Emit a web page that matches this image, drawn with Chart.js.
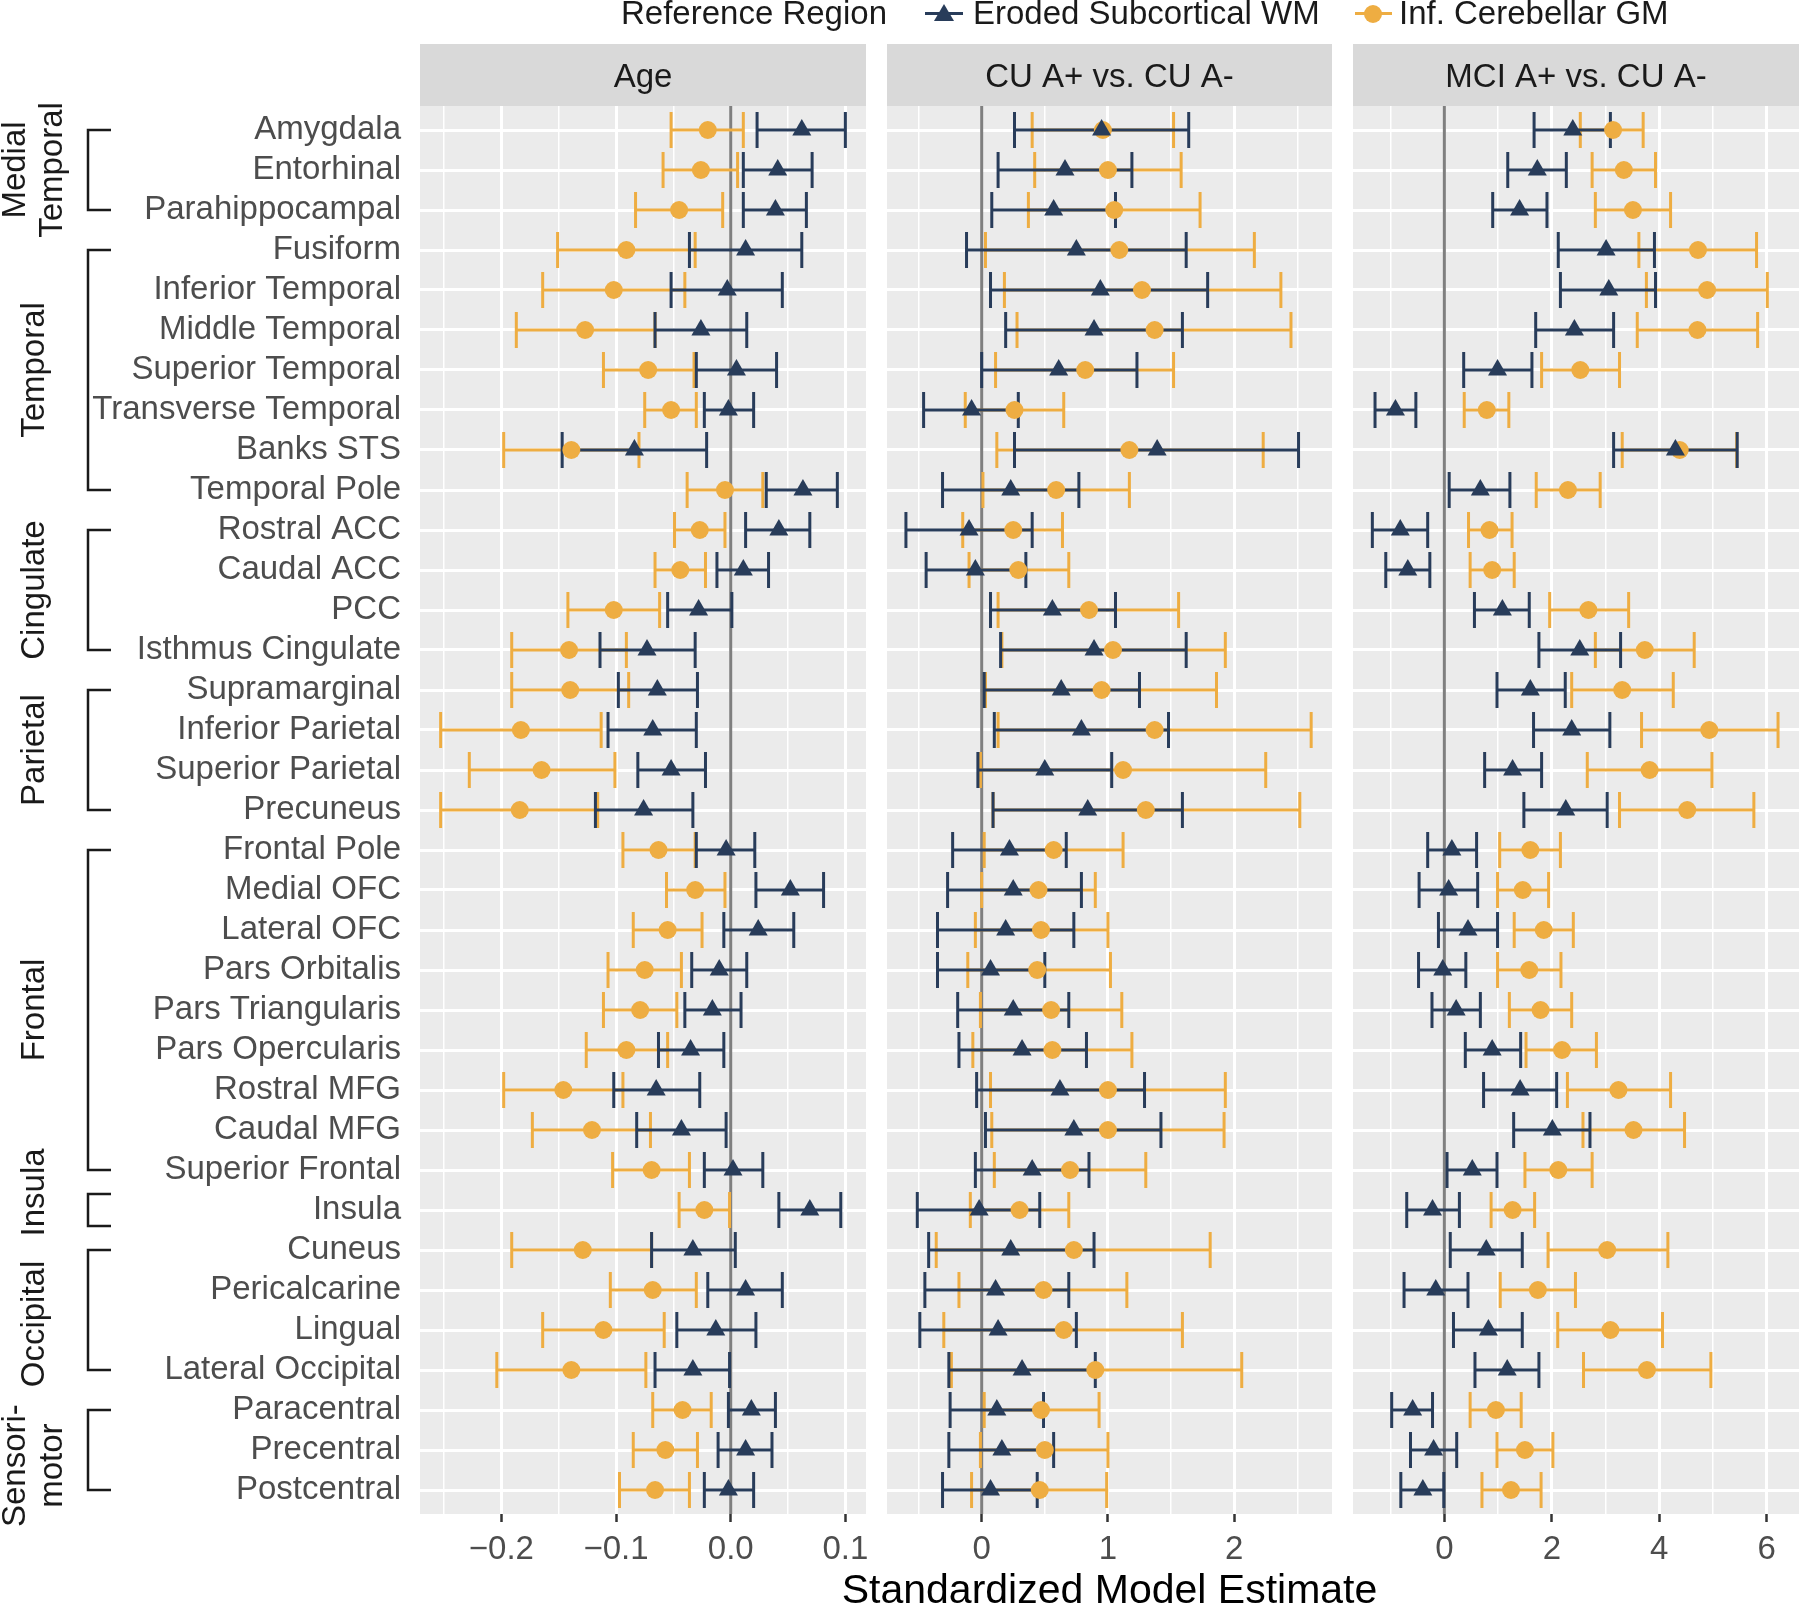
<!DOCTYPE html>
<html>
<head>
<meta charset="utf-8">
<script src="https://cdn.jsdelivr.net/npm/chart.js@4.4.0/dist/chart.umd.min.js"></script>
<style>
  body { margin: 0; background: #fff; }
  #page { position: relative; width: 1800px; height: 1606px; overflow: hidden;
          font-family: "Liberation Sans", Arial, Helvetica, sans-serif; }
  #page canvas { position: absolute; top: 0; }
  .txt { position: absolute; white-space: nowrap; color: #1a1a1a; font-size: 33px; line-height: 1; }
  .key-line { position: absolute; height: 3px; }
</style>
</head>
<body>
<div id="page">
  <canvas id="agePanel" width="870" height="1606" style="left:0;width:870px;height:1606px"></canvas>
  <canvas id="cuPanel" width="466" height="1606" style="left:870px;width:466px;height:1606px"></canvas>
  <canvas id="mciPanel" width="464" height="1606" style="left:1336px;width:464px;height:1606px"></canvas>

  <!-- legend -->
  <div class="txt" style="left:621px;top:-4px">Reference Region</div>
  <div class="key-line" style="left:925px;top:12px;width:38px;background:#283c5a"></div>
  <div style="position:absolute;left:934px;top:4px;width:0;height:0;border-left:10px solid transparent;border-right:10px solid transparent;border-bottom:17px solid #283c5a"></div>
  <div class="txt" style="left:973px;top:-4px">Eroded Subcortical WM</div>
  <div class="key-line" style="left:1355px;top:12px;width:37px;background:#eead42"></div>
  <div style="position:absolute;left:1364px;top:5px;width:18px;height:18px;border-radius:50%;background:#eead42"></div>
  <div class="txt" style="left:1399px;top:-4px">Inf. Cerebellar GM</div>

  <!-- shared x axis title -->
  <div class="txt" style="left:1109.5px;top:1569px;font-size:41px;color:#000;transform:translateX(-50%)">Standardized Model Estimate</div>
</div>

<script>
const NAVY = "#283c5a";
const ORANGE = "#eead42";
const FONT = '"Liberation Sans", Arial, Helvetica, sans-serif';

const regions = [
    "Amygdala", "Entorhinal", "Parahippocampal", "Fusiform", "Inferior Temporal",
    "Middle Temporal", "Superior Temporal", "Transverse Temporal", "Banks STS", "Temporal Pole",
    "Rostral ACC", "Caudal ACC", "PCC", "Isthmus Cingulate", "Supramarginal",
    "Inferior Parietal", "Superior Parietal", "Precuneus", "Frontal Pole", "Medial OFC",
    "Lateral OFC", "Pars Orbitalis", "Pars Triangularis", "Pars Opercularis", "Rostral MFG",
    "Caudal MFG", "Superior Frontal", "Insula", "Cuneus", "Pericalcarine",
    "Lingual", "Lateral Occipital", "Paracentral", "Precentral", "Postcentral",
];

// lobe groups on the left: label lines, first and last region index
const groupNames = [["Medial", "Temporal"], ["Temporal"], ["Cingulate"], ["Parietal"],
    ["Frontal"], ["Insula"], ["Occipital"], ["Sensori-", "motor"]];
const groupFirst = [0, 3, 10, 14, 18, 27, 28, 32];
const groupLast = [2, 9, 13, 17, 26, 27, 31, 34];

const panelTitles = ["Age", "CU A+ vs. CU A-", "MCI A+ vs. CU A-"];

// Age
const ageWmEst = [0.062, 0.041, 0.039, 0.013, -0.003, -0.026, 0.005, -0.002, -0.084, 0.063,
    0.042, 0.011, -0.028, -0.073, -0.064, -0.068, -0.052, -0.076, -0.004, 0.052,
    0.024, -0.010, -0.016, -0.035, -0.065, -0.043, 0.002, 0.069, -0.033, 0.013,
    -0.013, -0.033, 0.018, 0.013, -0.002];
const ageWmLo = [0.023, 0.011, 0.011, -0.036, -0.052, -0.066, -0.030, -0.023, -0.147, 0.031,
    0.013, -0.012, -0.055, -0.114, -0.098, -0.107, -0.081, -0.118, -0.030, 0.022,
    -0.006, -0.034, -0.040, -0.063, -0.102, -0.082, -0.023, 0.042, -0.069, -0.020,
    -0.047, -0.066, -0.002, -0.011, -0.023];
const ageWmHi = [0.100, 0.071, 0.066, 0.062, 0.045, 0.014, 0.040, 0.020, -0.021, 0.093,
    0.069, 0.033, 0.001, -0.031, -0.029, -0.030, -0.022, -0.033, 0.021, 0.081,
    0.055, 0.014, 0.009, -0.006, -0.027, -0.004, 0.028, 0.096, 0.004, 0.045,
    0.022, -0.001, 0.039, 0.036, 0.020];
const ageGmEst = [-0.020, -0.026, -0.045, -0.091, -0.102, -0.127, -0.072, -0.052, -0.139, -0.005,
    -0.027, -0.044, -0.102, -0.141, -0.140, -0.183, -0.165, -0.184, -0.063, -0.031,
    -0.055, -0.075, -0.079, -0.091, -0.146, -0.121, -0.069, -0.023, -0.129, -0.068,
    -0.111, -0.139, -0.042, -0.057, -0.066];
const ageGmLo = [-0.052, -0.059, -0.083, -0.151, -0.164, -0.187, -0.111, -0.075, -0.198, -0.038,
    -0.049, -0.066, -0.142, -0.191, -0.191, -0.253, -0.228, -0.253, -0.094, -0.056,
    -0.085, -0.107, -0.111, -0.126, -0.198, -0.173, -0.103, -0.045, -0.191, -0.105,
    -0.164, -0.204, -0.068, -0.085, -0.097];
const ageGmHi = [0.011, 0.006, -0.007, -0.031, -0.040, -0.066, -0.032, -0.030, -0.080, 0.028,
    -0.005, -0.022, -0.062, -0.091, -0.089, -0.113, -0.101, -0.116, -0.031, -0.005,
    -0.025, -0.043, -0.047, -0.055, -0.094, -0.070, -0.036, -0.001, -0.069, -0.030,
    -0.058, -0.074, -0.017, -0.029, -0.036];

// CU A+ vs. CU A-
const cuWmEst = [0.95, 0.66, 0.57, 0.75, 0.94, 0.89, 0.61, -0.08, 1.39, 0.23,
    -0.10, -0.05, 0.56, 0.89, 0.63, 0.79, 0.50, 0.84, 0.22, 0.25,
    0.19, 0.07, 0.25, 0.32, 0.62, 0.73, 0.40, -0.02, 0.23, 0.11,
    0.13, 0.32, 0.12, 0.16, 0.07];
const cuWmLo = [0.26, 0.13, 0.08, -0.12, 0.07, 0.19, 0.00, -0.46, 0.26, -0.31,
    -0.60, -0.44, 0.07, 0.15, 0.02, 0.10, -0.03, 0.09, -0.23, -0.27,
    -0.35, -0.35, -0.19, -0.18, -0.04, 0.03, -0.05, -0.51, -0.42, -0.45,
    -0.49, -0.26, -0.25, -0.26, -0.31];
const cuWmHi = [1.64, 1.19, 1.06, 1.62, 1.79, 1.59, 1.23, 0.29, 2.51, 0.77,
    0.40, 0.35, 1.06, 1.62, 1.25, 1.48, 1.03, 1.59, 0.67, 0.79,
    0.73, 0.50, 0.69, 0.83, 1.29, 1.42, 0.85, 0.46, 0.89, 0.69,
    0.75, 0.90, 0.49, 0.57, 0.44];
const cuGmEst = [0.96, 1.00, 1.05, 1.09, 1.27, 1.37, 0.82, 0.26, 1.17, 0.59,
    0.25, 0.29, 0.85, 1.04, 0.95, 1.37, 1.12, 1.30, 0.57, 0.45,
    0.47, 0.44, 0.55, 0.56, 1.00, 1.00, 0.70, 0.30, 0.73, 0.49,
    0.65, 0.90, 0.47, 0.50, 0.46];
const cuGmLo = [0.40, 0.42, 0.37, 0.03, 0.18, 0.28, 0.11, -0.13, 0.12, 0.01,
    -0.15, -0.10, 0.13, 0.16, 0.03, 0.13, -0.01, 0.09, 0.02, 0.00,
    -0.05, -0.11, -0.01, -0.07, 0.07, 0.08, 0.10, -0.09, -0.36, -0.18,
    -0.30, -0.24, 0.02, -0.01, -0.08];
const cuGmHi = [1.52, 1.58, 1.73, 2.16, 2.37, 2.45, 1.52, 0.65, 2.23, 1.17,
    0.64, 0.69, 1.56, 1.93, 1.86, 2.61, 2.25, 2.52, 1.12, 0.90,
    1.00, 1.02, 1.11, 1.19, 1.93, 1.92, 1.30, 0.69, 1.81, 1.15,
    1.59, 2.06, 0.93, 1.00, 0.99];

// MCI A+ vs. CU A-
const mciWmEst = [2.39, 1.73, 1.40, 3.01, 3.06, 2.42, 0.99, -0.91, 4.30, 0.67,
    -0.82, -0.68, 1.08, 2.52, 1.60, 2.37, 1.27, 2.26, 0.14, 0.08,
    0.44, -0.03, 0.22, 0.89, 1.41, 2.01, 0.52, -0.22, 0.78, -0.16,
    0.82, 1.17, -0.59, -0.20, -0.40];
const mciWmLo = [1.67, 1.18, 0.90, 2.12, 2.16, 1.70, 0.36, -1.29, 3.15, 0.09,
    -1.34, -1.09, 0.56, 1.76, 0.98, 1.66, 0.75, 1.48, -0.31, -0.47,
    -0.11, -0.48, -0.23, 0.39, 0.73, 1.29, 0.05, -0.70, 0.11, -0.75,
    0.17, 0.57, -0.98, -0.63, -0.81];
const mciWmHi = [3.09, 2.27, 1.91, 3.91, 3.93, 3.15, 1.63, -0.53, 5.45, 1.22,
    -0.31, -0.27, 1.58, 3.28, 2.25, 3.08, 1.81, 3.03, 0.60, 0.62,
    0.99, 0.40, 0.67, 1.42, 2.09, 2.71, 0.98, 0.28, 1.45, 0.44,
    1.45, 1.76, -0.22, 0.23, -0.01];
const mciGmEst = [3.14, 3.34, 3.51, 4.72, 4.89, 4.71, 2.53, 0.79, 4.38, 2.30,
    0.84, 0.89, 2.68, 3.73, 3.31, 4.93, 3.82, 4.52, 1.60, 1.46,
    1.85, 1.58, 1.79, 2.19, 3.24, 3.52, 2.12, 1.27, 3.03, 1.74,
    3.09, 3.77, 0.96, 1.50, 1.24];
const mciGmLo = [2.53, 2.75, 2.81, 3.62, 3.76, 3.59, 1.81, 0.37, 3.31, 1.71,
    0.45, 0.48, 1.96, 2.81, 2.37, 3.67, 2.66, 3.26, 1.03, 0.99,
    1.30, 0.99, 1.21, 1.52, 2.29, 2.58, 1.50, 0.87, 1.93, 1.04,
    2.11, 2.59, 0.48, 0.98, 0.70];
const mciGmHi = [3.70, 3.93, 4.21, 5.81, 6.01, 5.83, 3.26, 1.20, 5.44, 2.90,
    1.26, 1.30, 3.43, 4.65, 4.26, 6.21, 4.98, 5.76, 2.16, 1.94,
    2.40, 2.17, 2.37, 2.83, 4.21, 4.47, 2.75, 1.68, 4.16, 2.44,
    4.06, 4.96, 1.43, 2.02, 1.80];

// axis breaks
const ageMajor = [-0.2, -0.1, 0, 0.1];
const ageMinor = [-0.25, -0.15, -0.05, 0.05];
const ageTickLabels = ["\u22120.2", "\u22120.1", "0.0", "0.1"];
const cuMajor = [0, 1, 2];
const cuMinor = [-0.5, 0.5, 1.5, 2.5];
const cuTickLabels = ["0", "1", "2"];
const mciMajor = [0, 2, 4, 6];
const mciMinor = [-1, 1, 3, 5];
const mciTickLabels = ["0", "2", "4", "6"];

// --- styling / layout ---
const PANEL_TOP = 106;
const STRIP_TOP = 44;
const X_AXIS_H = 92;
const CAP = 0.45;                 // half height of error bar caps, in rows
const labelShift = [0, 0, 0, 0, 0, -0.44, 0.35, 0.39];

const panelBackground = {
    id: "strip",
    beforeDraw(chart, args, opts) {
        const { ctx, chartArea: a } = chart;
        ctx.save();
        ctx.fillStyle = "#d9d9d9";
        ctx.fillRect(a.left, STRIP_TOP, a.right - a.left, a.top - STRIP_TOP);
        ctx.fillStyle = "#1a1a1a";
        ctx.font = "33px " + FONT;
        ctx.textAlign = "center";
        ctx.textBaseline = "middle";
        ctx.fillText(opts.text, (a.left + a.right) / 2, (STRIP_TOP + a.top) / 2 + 3);
        ctx.fillStyle = "#ebebeb";
        ctx.fillRect(a.left, a.top, a.right - a.left, a.bottom - a.top);
        ctx.restore();
    },
};

const errorBars = {
    id: "errorBars",
    beforeDatasetsDraw(chart) {
        const { ctx, chartArea: a } = chart;
        const x = chart.scales.x;
        const y = chart.scales.y;
        ctx.save();
        ctx.beginPath();
        ctx.rect(a.left, a.top, a.right - a.left, a.bottom - a.top);
        ctx.clip();

        // zero reference line
        const x0 = x.getPixelForValue(0);
        ctx.strokeStyle = "#7f7f7f";
        ctx.lineWidth = 3;
        ctx.beginPath();
        ctx.moveTo(x0, a.top);
        ctx.lineTo(x0, a.bottom);
        ctx.stroke();

        // orange first, navy on top
        [1, 0].forEach((di) => {
            const ds = chart.data.datasets[di];
            ctx.strokeStyle = ds.pointBackgroundColor;
            ctx.lineWidth = 3;
            ds.data.forEach((p) => {
                const xl = x.getPixelForValue(p.lo);
                const xh = x.getPixelForValue(p.hi);
                const yc = y.getPixelForValue(p.y);
                const yt = y.getPixelForValue(p.y - CAP);
                const yb = y.getPixelForValue(p.y + CAP);
                ctx.beginPath();
                ctx.moveTo(xl, yc);
                ctx.lineTo(xh, yc);
                ctx.moveTo(xl, yt);
                ctx.lineTo(xl, yb);
                ctx.moveTo(xh, yt);
                ctx.lineTo(xh, yb);
                ctx.stroke();
            });
        });
        ctx.restore();
    },
};

const lobeLabels = {
    id: "lobeLabels",
    afterDraw(chart) {
        const { ctx } = chart;
        const y = chart.scales.y;
        ctx.save();
        ctx.strokeStyle = "#1a1a1a";
        ctx.fillStyle = "#1a1a1a";
        ctx.lineWidth = 2.5;
        ctx.font = "33px " + FONT;
        ctx.textAlign = "center";
        ctx.textBaseline = "alphabetic";
        groupNames.forEach((lines, g) => {
            let top = groupFirst[g];
            let bot = groupLast[g];
            if (top === bot) {
                top -= 0.4;
                bot += 0.4;
            }
            const yt = y.getPixelForValue(top);
            const yb = y.getPixelForValue(bot);
            ctx.beginPath();
            ctx.moveTo(111, yt);
            ctx.lineTo(88, yt);
            ctx.lineTo(88, yb);
            ctx.lineTo(111, yb);
            ctx.stroke();

            const yc = y.getPixelForValue((groupFirst[g] + groupLast[g]) / 2 + labelShift[g]);
            const baselines = lines.length === 1 ? [44] : [25, 62];
            lines.forEach((t, k) => {
                ctx.save();
                ctx.translate(baselines[k], yc);
                ctx.rotate(-Math.PI / 2);
                ctx.fillText(t, 0, 0);
                ctx.restore();
            });
        });
        ctx.restore();
    },
};

function points(est, lo, hi) {
    return est.map((v, i) => ({ x: v, y: i, lo: lo[i], hi: hi[i] }));
}

function createPanel(cfg) {
    const ticks = cfg.major.concat(cfg.minor).sort((a, b) => a - b);
    const isMajor = (v) => cfg.major.some((m) => Math.abs(m - v) < 1e-9);

    return new Chart(document.getElementById(cfg.id), {
        type: "scatter",
        data: {
            datasets: [
                {
                    label: "Eroded Subcortical WM",
                    data: points(cfg.wm[0], cfg.wm[1], cfg.wm[2]),
                    pointStyle: "triangle",
                    pointRadius: 11,
                    pointBackgroundColor: NAVY,
                    pointBorderColor: NAVY,
                    pointBorderWidth: 0,
                },
                {
                    label: "Inf. Cerebellar GM",
                    data: points(cfg.gm[0], cfg.gm[1], cfg.gm[2]),
                    pointStyle: "circle",
                    pointRadius: 9,
                    pointBackgroundColor: ORANGE,
                    pointBorderColor: ORANGE,
                    pointBorderWidth: 0,
                },
            ],
        },
        options: {
            responsive: false,
            animation: false,
            events: [],
            layout: {
                autoPadding: false,
                padding: { top: PANEL_TOP, bottom: 0, left: cfg.padLeft, right: cfg.padRight },
            },
            plugins: {
                legend: { display: false },
                tooltip: { enabled: false },
                strip: { text: cfg.title },
            },
            scales: {
                x: {
                    type: "linear",
                    min: cfg.min,
                    max: cfg.max,
                    afterBuildTicks: (s) => {
                        s.ticks = ticks.map((v) => ({ value: v }));
                    },
                    afterFit: (s) => {
                        s.height = X_AXIS_H;
                        s.paddingLeft = 0;
                        s.paddingRight = 0;
                    },
                    ticks: {
                        autoSkip: false,
                        maxRotation: 0,
                        padding: 8,
                        color: "#4d4d4d",
                        font: { family: FONT, size: 33 },
                        callback: (v) => {
                            const k = cfg.major.findIndex((m) => Math.abs(m - v) < 1e-9);
                            return k >= 0 ? cfg.labels[k] : "";
                        },
                    },
                    grid: {
                        color: "#ffffff",
                        lineWidth: (c) => (c.tick && isMajor(c.tick.value) ? 3 : 1.5),
                        tickColor: (c) => (c.tick && isMajor(c.tick.value) ? "#333333" : "rgba(0,0,0,0)"),
                        tickLength: 8,
                        tickWidth: 2.5,
                    },
                    border: { display: false },
                },
                y: {
                    type: "linear",
                    reverse: true,
                    min: -0.6,
                    max: regions.length - 0.4,
                    afterBuildTicks: (s) => {
                        s.ticks = regions.map((_, i) => ({ value: i }));
                    },
                    afterFit: (s) => {
                        s.width = cfg.showY ? 420 : 0;
                        s.paddingTop = 0;
                        s.paddingBottom = 0;
                    },
                    ticks: {
                        display: cfg.showY,
                        autoSkip: false,
                        padding: 19,
                        color: "#4d4d4d",
                        font: { family: FONT, size: 33 },
                        callback: (v) => regions[v],
                    },
                    grid: {
                        color: "#ffffff",
                        lineWidth: 3,
                        drawTicks: false,
                    },
                    border: { display: false },
                },
            },
        },
        plugins: cfg.showY ? [panelBackground, errorBars, lobeLabels] : [panelBackground, errorBars],
    });
}

createPanel({
    id: "agePanel", title: panelTitles[0], min: -0.271, max: 0.118,
    major: ageMajor, minor: ageMinor, labels: ageTickLabels,
    wm: [ageWmEst, ageWmLo, ageWmHi], gm: [ageGmEst, ageGmLo, ageGmHi],
    showY: true, padLeft: 0, padRight: 4,
});

createPanel({
    id: "cuPanel", title: panelTitles[1], min: -0.75, max: 2.775,
    major: cuMajor, minor: cuMinor, labels: cuTickLabels,
    wm: [cuWmEst, cuWmLo, cuWmHi], gm: [cuGmEst, cuGmLo, cuGmHi],
    showY: false, padLeft: 17, padRight: 4,
});

createPanel({
    id: "mciPanel", title: panelTitles[2], min: -1.70, max: 6.60,
    major: mciMajor, minor: mciMinor, labels: mciTickLabels,
    wm: [mciWmEst, mciWmLo, mciWmHi], gm: [mciGmEst, mciGmLo, mciGmHi],
    showY: false, padLeft: 17, padRight: 1,
});
</script>
</body>
</html>
